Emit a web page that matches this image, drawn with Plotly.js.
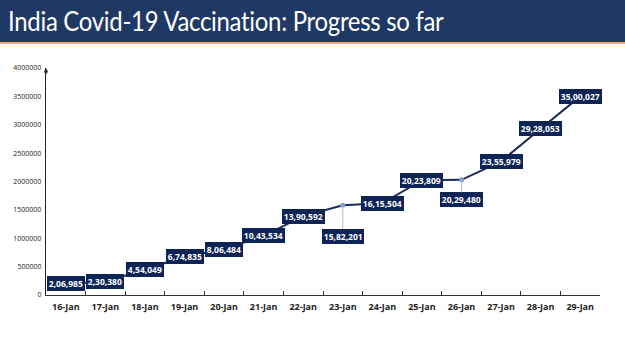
<!DOCTYPE html>
<html>
<head>
<meta charset="utf-8">
<script src="https://cdn.plot.ly/plotly-3.0.1.min.js"></script>
<style>
  html, body { margin:0; padding:0; width:625px; height:351px; overflow:hidden; background:#fff; }
  #header { position:absolute; left:0; top:0; width:625px; height:42px; background:#1f3864; z-index:2; }
  #rule { position:absolute; left:0; top:42px; width:625px; height:2px; background:#f4a67a; z-index:2; }
  #title { position:absolute; left:8px; top:5px; color:#fff; font-family:Lato, "Open Sans", sans-serif; font-size:26px; letter-spacing:-0.3px; white-space:nowrap; transform:scaleX(0.92); transform-origin:left center; }
  #chart { position:absolute; left:0; top:0; width:625px; height:351px; }
</style>
</head>
<body>
<div id="chart"></div>
<div id="header"><div id="title">India Covid-19 Vaccination: Progress so far</div></div>
<div id="rule"></div>
<script>
const dates = ['16-Jan','17-Jan','18-Jan','19-Jan','20-Jan','21-Jan','22-Jan','23-Jan','24-Jan','25-Jan','26-Jan','27-Jan','28-Jan','29-Jan'];
const vaccinated = [206985, 230380, 454049, 674835, 806484, 1043534, 1390592, 1582201, 1615504, 2023809, 2029480, 2355979, 2928053, 3500027];
const labels = ['2,06,985','2,30,380','4,54,049','6,74,835','8,06,484','10,43,534','13,90,592','15,82,201','16,15,504','20,23,809','20,29,480','23,55,979','29,28,053','35,00,027'];
const labelDrop = [0,0,0,0,0,0,0,31,0,0,20,0,0,0];

const navy = '#0f2456';
const annotations = dates.map((d, i) => {
  const a = {
    x: d, y: vaccinated[i], xref:'x', yref:'y',
    text: '<b>' + labels[i] + '</b>',
    font: {family:'Open Sans, sans-serif', size:8.5, color:'#ffffff'},
    bgcolor: navy, borderpad: 1.8, borderwidth: 0
  };
  if (labelDrop[i]) {
    Object.assign(a, {showarrow:true, ax:0, ay:labelDrop[i], arrowhead:0, arrowwidth:1, arrowcolor:'#b8b8b8', standoff:0, startstandoff:0});
  } else {
    a.showarrow = false;
  }
  return a;
});
annotations.push({
  xref:'paper', yref:'y', x:0, y:4000000, ax:0, ay:8, axref:'pixel', ayref:'pixel',
  text:'', showarrow:true, arrowhead:2, arrowsize:0.9, arrowwidth:1, arrowcolor:'#222', standoff:-3
});

const trace = {
  x: dates, y: vaccinated, type:'scatter', mode:'lines+markers',
  line: {color:'#1b2a5a', width:2},
  marker: {size:5, color:'#7f9ccc'},
  hoverinfo:'skip', cliponaxis:false
};

const layout = {
  width:625, height:351,
  margin:{l:46, r:25, t:68, b:56},
  paper_bgcolor:'#ffffff', plot_bgcolor:'#ffffff',
  showlegend:false,
  xaxis:{
    type:'category', range:[-0.5, 13.5],
    showline:true, linecolor:'#333', linewidth:1.2,
    ticks:'inside', ticklen:4, tickcolor:'#333', tickson:'boundaries',
    showgrid:false, zeroline:false,
    tickfont:{family:'Open Sans, sans-serif', size:9, color:'#222', weight:'bold'},
    ticklabelstandoff:3
  },
  yaxis:{
    range:[0, 4000000], dtick:500000, tickformat:'d',
    showline:true, linecolor:'#222', linewidth:1.2,
    ticks:'', showgrid:false, zeroline:false,
    tickfont:{family:'Open Sans, sans-serif', size:7, color:'#222'},
    ticklabelstandoff:2
  },
  annotations: annotations
};

Plotly.newPlot('chart', [trace], layout, {displayModeBar:false, staticPlot:true});
</script>
</body>
</html>
